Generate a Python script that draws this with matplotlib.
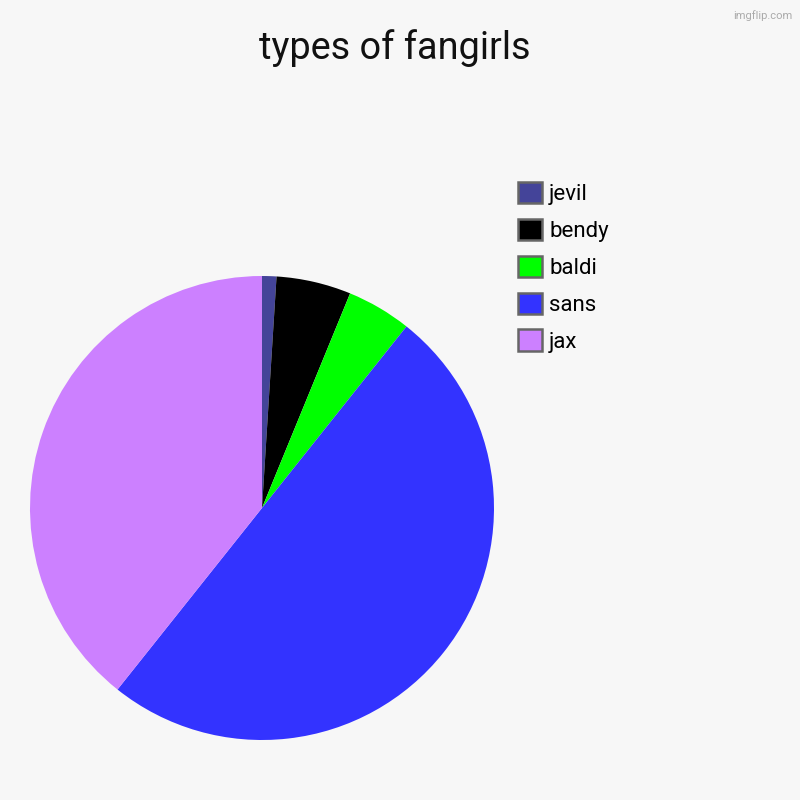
import matplotlib
matplotlib.use("Agg")
import matplotlib.pyplot as plt
from matplotlib.patches import Patch

labels = ["jevil", "bendy", "baldi", "sans", "jax"]
values = [1.0, 5.2, 4.5, 50.0, 39.3]
colors = ["#444499", "#000000", "#00FF00", "#3333FF", "#CC80FF"]

plt.rcParams['font.family'] = ['Roboto', 'DejaVu Sans']
bg = "#F7F7F7"
fig = plt.figure(figsize=(8, 8), dpi=100, facecolor=bg)
ax = fig.add_axes([0.0375, 0.075, 0.58, 0.58])
ax.set_facecolor(bg)
ax.pie(values, colors=colors, startangle=90, counterclock=False,
       wedgeprops=dict(linewidth=0), radius=1.0)
ax.set_xlim(-1, 1)
ax.set_ylim(-1, 1)
ax.set_aspect('equal')
ax.axis('off')

fig.text(0.49375, 0.9395, "types of fangirls", ha='center', va='center',
         fontsize=27.3, color='#111111')
fig.text(0.99, 0.988, "imgflip.com", ha='right', va='top', fontsize=8, color='#AAAAAA')

handles = [Patch(facecolor=c, edgecolor='#666666', linewidth=1.8) for c in colors]
fig.legend(handles, labels, loc='upper left', bbox_to_anchor=(0.6475, 0.7725),
           frameon=False, fontsize=16, handlelength=1.08, handleheight=1.08,
           labelspacing=0.62, handletextpad=0.32, borderaxespad=0, borderpad=0)

fig.savefig("out.png", dpi=100, facecolor=bg)
